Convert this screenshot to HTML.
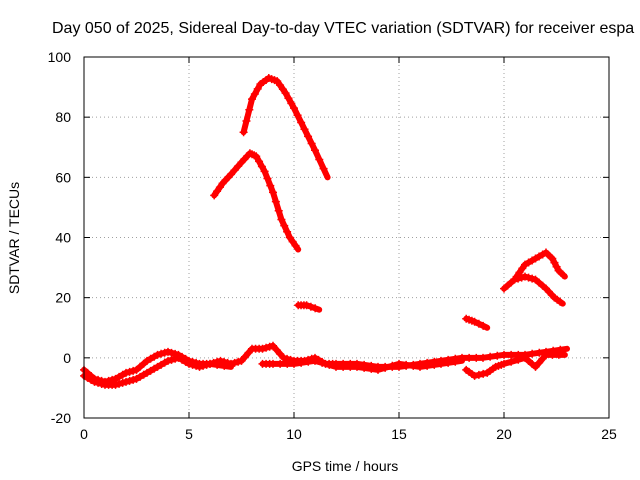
<!DOCTYPE html>
<html><head><meta charset="utf-8"><style>
body{margin:0;background:#fff;overflow:hidden;}
svg{display:block;font-family:"Liberation Sans",sans-serif;}
</style></head><body>
<svg id="chart" width="640" height="480" viewBox="0 0 640 480">
<rect width="640" height="480" fill="#fff"/>
<text x="52" y="33" font-size="16">Day 050 of 2025, Sidereal Day-to-day VTEC variation (SDTVAR) for receiver espa</text>
<text transform="translate(19,238) rotate(-90)" text-anchor="middle" font-size="14">SDTVAR / TECUs</text>
<text x="345" y="471" text-anchor="middle" font-size="14">GPS time / hours</text>
<g id="grid"></g><g id="marks"></g>
<rect x="84" y="57" width="525" height="361" fill="none" stroke="#000" stroke-width="1"/>
</svg>
<script>
const xTicks=[0,5,10,15,20,25];
const yTicks=[-20,0,20,40,60,80,100];
const track1=[[7.6,75],[8.0,86],[8.4,91],[8.8,93],[9.2,92],[9.6,88],[10.0,83],[10.5,76],[11.0,69],[11.6,60]];
const track2=[[6.2,54],[6.6,58],[7.0,61],[7.5,65],[7.9,68],[8.2,67],[8.6,62],[9.0,55],[9.4,46],[9.8,40],[10.2,36]];
const track3=[[10.2,17.5],[10.6,17.5],[11.2,16]];
const track4=[[20,23],[20.5,26],[21,27],[21.5,26],[22,23],[22.4,20],[22.8,18]];
const track5=[[20.6,27],[21,31],[21.5,33],[22,35],[22.3,33],[22.6,29],[22.9,27]];
const track6=[[18.2,13],[18.6,12],[19.2,10]];
const track7=[[0,-4],[0.5,-7],[1,-8],[1.5,-7],[2,-5],[2.5,-4],[3,-1],[3.5,1],[4,2],[4.5,1],[5,-1],[5.5,-2],[6,-2],[6.5,-1],[7,-2],[7.5,-1],[8,3],[8.5,3],[9,4],[9.5,0],[10,-1],[10.5,-1],[11,0],[11.5,-2],[12,-2],[13,-2],[14,-3],[15,-3],[16,-2],[17,-1],[18,0],[19,0],[20,1],[21,1],[22,2],[23,3]];
const track8=[[0,-6],[0.5,-8],[1,-9],[1.5,-9],[2,-8],[2.5,-7],[3,-5],[3.5,-3],[4,-1],[4.5,0],[5,-2],[5.5,-3],[6,-2],[7,-3]];
const track9=[[8.5,-2],[9,-2],[10,-2],[11,-1],[12,-3],[13,-3],[14,-4],[15,-2],[16,-3],[17,-2],[18,-1]];
const track10=[[18.2,-4],[18.6,-6],[19.2,-5],[19.6,-3],[20,-2],[21,0],[21.5,-3],[22,1],[22.9,1]];
const tracks=[track1,track2,track3,track4,track5,track6,track7,track8,track9,track10];
const L=84,R=609,T=57,B=418;
const sx=v=>L+(v-0)/25*(R-L);
const sy=v=>B-(v+20)/120*(B-T);
const NS="http://www.w3.org/2000/svg";
const grid=document.getElementById('grid'),marks=document.getElementById('marks');
function mk(tag,attrs,parent){const e=document.createElementNS(NS,tag);for(const k in attrs)e.setAttribute(k,attrs[k]);parent.appendChild(e);return e;}
xTicks.forEach(t=>{const x=sx(t);
 if(t>0&&t<25){const g=mk('line',{x1:x,x2:x,y1:T,y2:B,stroke:'#a0a0a0','stroke-dasharray':'1,3'},grid);
 
 }
 mk('line',{x1:x,x2:x,y1:B,y2:B-6,stroke:'#000'},grid);mk('line',{x1:x,x2:x,y1:T,y2:T+6,stroke:'#000'},grid);
 const l=mk('text',{x:x,y:B+21,'text-anchor':'middle','font-size':14},grid);l.textContent=t;
 
 });
yTicks.forEach(t=>{const y=sy(t);
 if(t>-20&&t<100){const g=mk('line',{x1:L,x2:R,y1:y,y2:y,stroke:'#a0a0a0','stroke-dasharray':'1,3'},grid);
 
 }
 mk('line',{x1:L,x2:L+6,y1:y,y2:y,stroke:'#000'},grid);mk('line',{x1:R,x2:R-6,y1:y,y2:y,stroke:'#000'},grid);
 const l=mk('text',{x:L-13,y:y+5,'text-anchor':'end','font-size':14},grid);l.textContent=t;
 
 });
tracks.forEach((tr,i)=>{
 const p=mk('polyline',{points:tr.map(d=>sx(d[0])+','+sy(d[1])).join(' '),fill:'none',stroke:'#f00','stroke-width':6,'stroke-linejoin':'round','stroke-linecap':'round'},marks);
 
 
 for(let k=0;k<tr.length-1;k++){
  for(let f=0;f<1;f+=0.34){
   const xv=tr[k][0]+(tr[k+1][0]-tr[k][0])*f, yv=tr[k][1]+(tr[k+1][1]-tr[k][1])*f;
   const x=sx(xv),y=sy(yv);
   const c=mk('path',{d:`M${x-4},${y}h8M${x},${y-4}v8`,stroke:'#f00','stroke-width':1.5},marks);
   
   
  }
 }
});
</script>
</body></html>
